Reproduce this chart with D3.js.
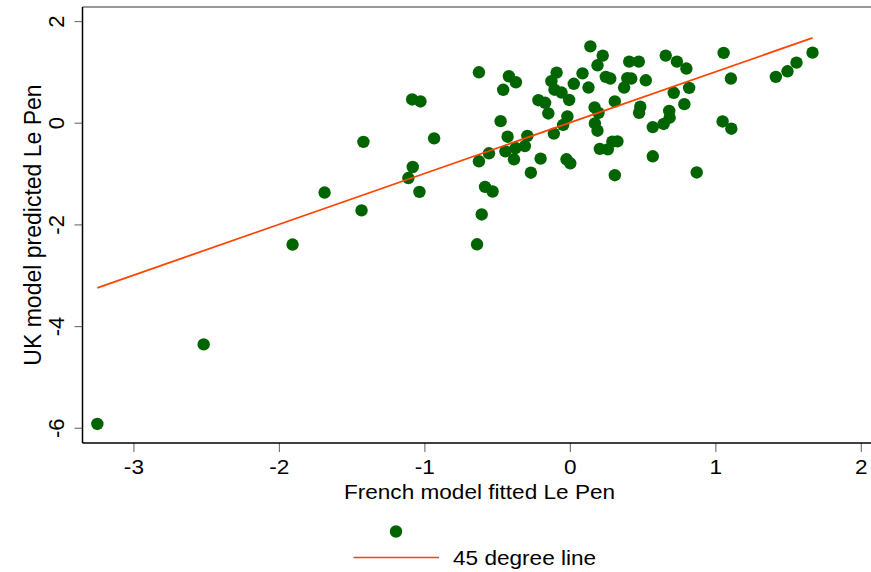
<!DOCTYPE html>
<html>
<head>
<meta charset="utf-8">
<script src="https://cdn.jsdelivr.net/npm/d3@7"></script>
<style>
  body { margin: 0; background: #fff; }
  text { font-family: "Liberation Sans", Arial, sans-serif; fill: #000; }
</style>
</head>
<body>
<script>
'use strict';

// French model fitted vs UK model predicted Le Pen vote
let frenchFitted = [
  -3.248, -2.517, -1.906, -1.686, -1.432, -1.419, -1.084, -1.027, -0.933, -1.080,
  -1.110, -1.034, -0.638, -0.606, -0.583, -0.531, -0.625, -0.556, -0.625, -0.419,
  -0.371, -0.458, -0.476, -0.428, -0.292, -0.309, -0.373, -0.443, -0.384, -0.201,
  -0.268, -0.023, 0.003, -0.216, -0.170, -0.148, -0.110, -0.091, -0.127, -0.106,
  -0.057, -0.005, 0.027, 0.087, 0.128, 0.141, 0.226, 0.190, -0.017, -0.046,
  0.170, 0.197, 0.172, 0.190, 0.206, 0.261, 0.292, 0.327, 0.309, 0.309,
  0.247, 0.278, 0.373, 0.395, 0.422, 0.408, 0.474, 0.522, 0.484, 0.476,
  0.570, 0.645, 0.686, 0.683, 0.570, 0.659, 0.736, 0.801, 0.714, 0.820,
  0.787, 0.872, 1.050, 1.110, 1.057, 1.107, 1.416, 1.496, 1.558, 1.668
];
let ukPredicted = [
  -5.925, -4.361, -2.396, -1.373, -1.725, -0.376, 0.457, 0.418, -0.308, -0.871,
  -1.088, -1.361, -2.392, -1.804, -1.263, -1.353, -0.759, -0.602, 0.992, 0.914,
  0.796, 0.647, 0.031, -0.275, -0.259, -0.459, -0.498, -0.563, -0.720, -0.706,
  -0.984, -0.720, -0.798, 0.443, 0.392, 0.182, -0.214, 0.986, 0.816, 0.649,
  0.594, 0.447, 0.765, 0.971, 0.692, 1.502, 1.320, 1.129, 0.124, -0.043,
  0.300, 0.192, -0.014, -0.157, -0.514, -0.524, -0.373, -0.367, -1.033, 0.418,
  0.902, 0.869, 0.692, 0.875, 0.869, 1.202, 1.202, 0.835, 0.314, 0.196,
  -0.086, -0.024, 0.098, 0.231, -0.661, 1.320, 1.202, 1.065, 0.588, 0.686,
  0.365, -0.978, 0.025, -0.118, 1.373, 0.869, 0.902, 1.012, 1.182, 1.378
];
let xTicks = [-3, -2, -1, 0, 1, 2];
let yTicks = [-6, -4, -2, 0, 2];

let w = 871, h = 572;
let plotLeft = 82.5, plotRight = 871, plotTop = 7, plotBottom = 443;
let stretch = 1.13;

let svg = d3.select('body')
    .append('svg')
    .attr('width', w)
    .attr('height', h);

let x = d3.scaleLinear().domain([-3.35, 2.07]).range([plotLeft, plotRight]);
let y = d3.scaleLinear().domain([-6.30, 2.276]).range([plotBottom, plotTop]);

// top border
svg.append('line')
    .attr('x1', plotLeft).attr('x2', plotRight)
    .attr('y1', plotTop).attr('y2', plotTop)
    .attr('stroke', '#777').attr('stroke-width', 1.5);

// x axis
let gx = svg.append('g')
    .attr('transform', `translate(0,${plotBottom})`)
    .call(d3.axisBottom(x).tickValues(xTicks).tickSize(9).tickSizeOuter(0)
        .tickFormat(d => String(d)));
gx.select('.domain').remove();
gx.selectAll('.tick line').attr('stroke', '#777').attr('stroke-width', 1.2);
gx.selectAll('.tick text')
    .attr('y', 31).attr('dy', 0)
    .attr('font-size', 20)
    .attr('font-family', '"Liberation Sans", Arial, sans-serif')
    .attr('fill', '#000')
    .attr('transform', `scale(${stretch},1)`);

// y axis
let gy = svg.append('g')
    .attr('transform', `translate(${plotLeft},0)`)
    .call(d3.axisLeft(y).tickValues(yTicks).tickSize(8).tickSizeOuter(0)
        .tickFormat(d => String(d)));
gy.select('.domain').remove();
gy.selectAll('.tick line').attr('stroke', '#777').attr('stroke-width', 1.2);
gy.selectAll('.tick text')
    .attr('x', 0).attr('y', -19).attr('dy', 0)
    .attr('text-anchor', 'middle')
    .attr('font-size', 22)
    .attr('font-family', '"Liberation Sans", Arial, sans-serif')
    .attr('fill', '#000')
    .attr('transform', 'rotate(-90)');

// axis lines
svg.append('line')
    .attr('x1', plotLeft).attr('x2', plotLeft)
    .attr('y1', plotTop).attr('y2', plotBottom)
    .attr('stroke', '#000').attr('stroke-width', 1.5);
svg.append('line')
    .attr('x1', plotLeft).attr('x2', plotRight)
    .attr('y1', plotBottom).attr('y2', plotBottom)
    .attr('stroke', '#000').attr('stroke-width', 1.5);

// axis titles
svg.append('g')
    .attr('transform', 'translate(479.5,499)')
    .append('text')
    .attr('text-anchor', 'middle')
    .attr('font-size', 20)
    .attr('transform', `scale(${stretch},1)`)
    .text('French model fitted Le Pen');

svg.append('text')
    .attr('transform', 'translate(40.5,225) rotate(-90)')
    .attr('text-anchor', 'middle')
    .attr('font-size', 23)
    .text('UK model predicted Le Pen');

// points
let points = frenchFitted.map((d, i) => [d, ukPredicted[i]]);
svg.append('g').selectAll('circle')
    .data(points)
    .enter()
    .append('circle')
    .attr('cx', d => x(d[0]))
    .attr('cy', d => y(d[1]))
    .attr('r', 6.2)
    .attr('fill', '#006400');

// 45 degree line
let ext = d3.extent(frenchFitted);
svg.append('line')
    .attr('x1', x(ext[0])).attr('y1', y(ext[0]))
    .attr('x2', x(ext[1])).attr('y2', y(ext[1]))
    .attr('stroke', '#ff4500').attr('stroke-width', 1.8);

// legend
svg.append('circle')
    .attr('cx', 396).attr('cy', 531.5).attr('r', 6.2)
    .attr('fill', '#006400');
svg.append('line')
    .attr('x1', 353.5).attr('x2', 439)
    .attr('y1', 557.5).attr('y2', 557.5)
    .attr('stroke', '#ff4500').attr('stroke-width', 1.5);
svg.append('g')
    .attr('transform', 'translate(453,565)')
    .append('text')
    .attr('font-size', 20)
    .attr('transform', `scale(${stretch},1)`)
    .text('45 degree line');
</script>
</body>
</html>
